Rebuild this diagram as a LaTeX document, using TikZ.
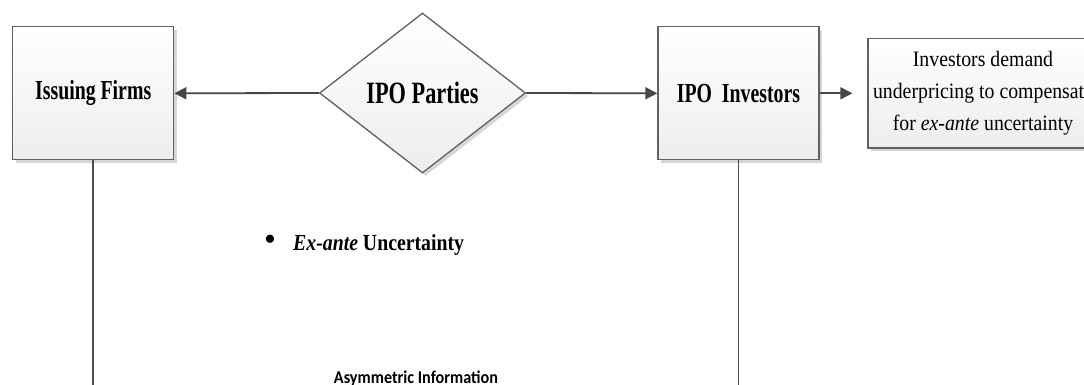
\documentclass[tikz,border=0pt]{standalone}
\usepackage{fontspec}
\setmainfont{Liberation Serif}
\newfontfamily\fA[FakeStretch=0.72]{Liberation Serif}
\newfontfamily\fB[FakeStretch=0.86]{Liberation Serif}
\newfontfamily\fC[FakeStretch=0.9]{Liberation Serif}
\newfontfamily\fS[FakeStretch=0.9]{Carlito}
\usetikzlibrary{shapes.geometric,arrows.meta,shadows}
\begin{document}
\begin{tikzpicture}[x=1pt,y=-1pt,
  box/.style={draw=black!62, line width=1.3pt, top color=white, bottom color=black!7,
    drop shadow={shadow xshift=3pt,shadow yshift=-3pt,fill=black!16,opacity=1}, inner sep=0pt},
  conn/.style={draw=black!72, line width=1.8pt, -{Triangle[length=12pt,width=12pt]}},
  vline/.style={draw=black!70, line width=1.6pt},
  bigbold/.style={font=\fA\bfseries\fontsize{27.5}{30}\selectfont}]
\useasboundingbox (0,0) rectangle (1084,385);
\fill[white] (0,0) rectangle (1084,385);

\node[box, bigbold, minimum width=161pt, minimum height=133pt] (IF) at (93.2,93.3) {Issuing Firms};
\node[box, diamond, aspect=1.29, minimum width=206pt, minimum height=160pt,
  font=\fA\bfseries\fontsize{31}{34}\selectfont] (P) at (422.5,93) {IPO Parties};
\node[box, bigbold, minimum width=161pt, minimum height=133pt] (INV) at (738.5,93.3) {IPO\ \ Investors};
\node[box, minimum width=230pt, minimum height=109.5pt, align=center,
  font=\fC\fontsize{22}{32}\selectfont] (R) at (983,93.3)
  {Investors demand\\underpricing to compensate\\for \textit{ex-ante} uncertainty};

\draw[conn] (P.west) -- (IF.east);
\draw[conn] (P.east) -- (INV.west);
\draw[conn, shorten >=15pt] (INV.east) -- (R.west);

\coordinate (IFb) at (93.2,385);
\coordinate (INVb) at (738.5,385);
\draw[vline] (IF.south) -- (IFb);
\draw[vline] (INV.south) -- (INVb);

\node[font=\fontsize{34}{36}\selectfont, inner sep=0pt] (B) at (270,243) {•};
\node[anchor=base west, inner sep=0pt, font=\fB\bfseries\fontsize{23}{26}\selectfont] (U) at (293,250.7)
  {\textit{Ex-ante} Uncertainty};
\node[anchor=base, inner sep=0pt, font=\fS\bfseries\fontsize{18}{20}\selectfont] (A) at (416,383)
  {Asymmetric Information};
\end{tikzpicture}
\end{document}
